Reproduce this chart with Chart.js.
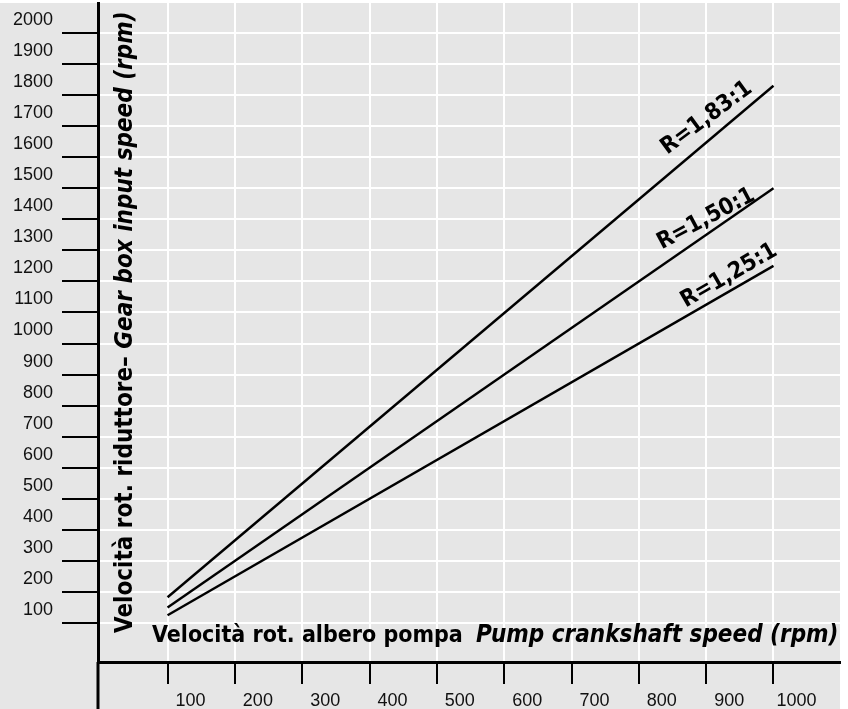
<!DOCTYPE html>
<html>
<head>
<meta charset="utf-8">
<script src="https://cdn.jsdelivr.net/npm/chart.js@4"></script>
<style>
  body { margin: 0; background: #fff; }
  #wrap { width: 848px; height: 709px; }
</style>
</head>
<body>
<div id="wrap"><canvas id="speeds" width="848" height="709"></canvas></div>
<script>
// pump speed (x) and gearbox input speed (y) for each ratio
var pumpSpeed = [100, 1000];
var gearR183 = [183, 1830];
var gearR150 = [150, 1500];
var gearR125 = [125, 1250];
var ratioNames = ["R=1,83:1", "R=1,50:1", "R=1,25:1"];

var xTicks = [100, 200, 300, 400, 500, 600, 700, 800, 900, 1000];
var yTicks = [100, 200, 300, 400, 500, 600, 700, 800, 900, 1000,
  1100, 1200, 1300, 1400, 1500, 1600, 1700, 1800, 1900, 2000];

var fam = "'DejaVu Sans Condensed', 'DejaVu Sans', sans-serif";
var boldFont = "bold 23px " + fam;
var italicFont = "italic bold 24px " + fam;

function points(ys) {
  return pumpSpeed.map(function (x, i) { return { x: x, y: ys[i] }; });
}

// where the ratio labels sit (data coords of text centre) and their slant
var labelSpots = [
  { x: 901, y: 1726, angle: 36.5 },
  { x: 900, y: 1401, angle: 28 },
  { x: 934, y: 1218, angle: 30 }
];

var decor = {
  id: "decor",
  beforeDraw: function (chart) {
    var c = chart.ctx, a = chart.chartArea;
    c.save();
    c.fillStyle = "#fff";
    c.fillRect(0, 0, chart.width, chart.height);
    c.fillStyle = "#e6e6e6";
    c.fillRect(0, a.top, a.right, chart.height - a.top);
    c.restore();
  },
  afterDraw: function (chart) {
    var c = chart.ctx, a = chart.chartArea;
    var xs = chart.scales.x, ys = chart.scales.y;
    c.save();
    // y axis runs on below the x axis
    c.strokeStyle = "#000";
    c.lineWidth = 3;
    c.beginPath();
    c.moveTo(a.left, a.bottom);
    c.lineTo(a.left, chart.height);
    c.stroke();

    c.fillStyle = "#000";
    // ratio labels
    c.font = boldFont;
    c.textAlign = "center";
    c.textBaseline = "middle";
    labelSpots.forEach(function (s, i) {
      c.save();
      c.translate(xs.getPixelForValue(s.x), ys.getPixelForValue(s.y));
      c.rotate(-s.angle * Math.PI / 180);
      c.fillText(ratioNames[i], 0, 0);
      c.restore();
    });

    // x title
    c.textAlign = "left";
    c.textBaseline = "alphabetic";
    var p1 = "Velocità rot. albero pompa ";
    c.font = boldFont;
    var w1 = c.measureText(p1).width;
    c.fillText(p1, a.left + 54, a.bottom - 20);
    c.font = italicFont;
    c.fillText("Pump crankshaft speed (rpm)", a.left + 60 + w1, a.bottom - 20);

    // y title
    c.save();
    c.translate(a.left + 34, a.bottom - 29);
    c.rotate(-Math.PI / 2);
    var q1 = "Velocità rot. riduttore– ";
    c.font = "bold 24px " + fam;
    var v1 = c.measureText(q1).width;
    c.fillText(q1, 0, 0);
    c.font = "italic bold 24px " + fam;
    c.fillText("Gear box input speed (rpm)", v1, 0);
    c.restore();
    c.restore();
  }
};

var lineStyle = { borderColor: "#000", borderWidth: 2.4, pointRadius: 0, showLine: true, fill: false };

var chart = new Chart(document.getElementById("speeds").getContext("2d"), {
  type: "scatter",
  data: {
    datasets: [
      Object.assign({ label: ratioNames[0], data: points(gearR183) }, lineStyle),
      Object.assign({ label: ratioNames[1], data: points(gearR150) }, lineStyle),
      Object.assign({ label: ratioNames[2], data: points(gearR125) }, lineStyle)
    ]
  },
  options: {
    responsive: false,
    animation: false,
    layout: { padding: { top: 3, right: 8, left: 0, bottom: 0 } },
    plugins: { legend: { display: false }, tooltip: { enabled: false } },
    scales: {
      x: {
        type: "linear",
        min: -3.3,
        max: 1098.8,
        afterBuildTicks: function (s) { s.ticks = xTicks.map(function (v) { return { value: v }; }); },
        afterFit: function (s) { s.height = 47; s.paddingLeft = 0; s.paddingRight = 0; },
        grid: { color: "#fff", lineWidth: 2, tickColor: "#000", tickWidth: 2, tickLength: 22 },
        border: { color: "#000", width: 3 },
        ticks: {
          autoSkip: false,
          maxRotation: 0,
          padding: 6,
          labelOffset: 23,
          color: "#111",
          font: { family: "'Liberation Sans', Arial, sans-serif", size: 18 },
          callback: function (v) { return String(v); }
        }
      },
      y: {
        type: "linear",
        min: -25.6,
        max: 2096.6,
        afterBuildTicks: function (s) { s.ticks = yTicks.map(function (v) { return { value: v }; }); },
        afterFit: function (s) { s.width = 98; s.paddingTop = 0; s.paddingBottom = 0; },
        grid: { color: "#fff", lineWidth: 2, tickColor: "#000", tickWidth: 2, tickLength: 36 },
        border: { color: "#000", width: 3 },
        ticks: {
          autoSkip: false,
          padding: 9,
          labelOffset: -13,
          color: "#111",
          font: { family: "'Liberation Sans', Arial, sans-serif", size: 18 },
          callback: function (v) { return String(v); }
        }
      }
    }
  },
  plugins: [decor]
});
</script>
</body>
</html>
